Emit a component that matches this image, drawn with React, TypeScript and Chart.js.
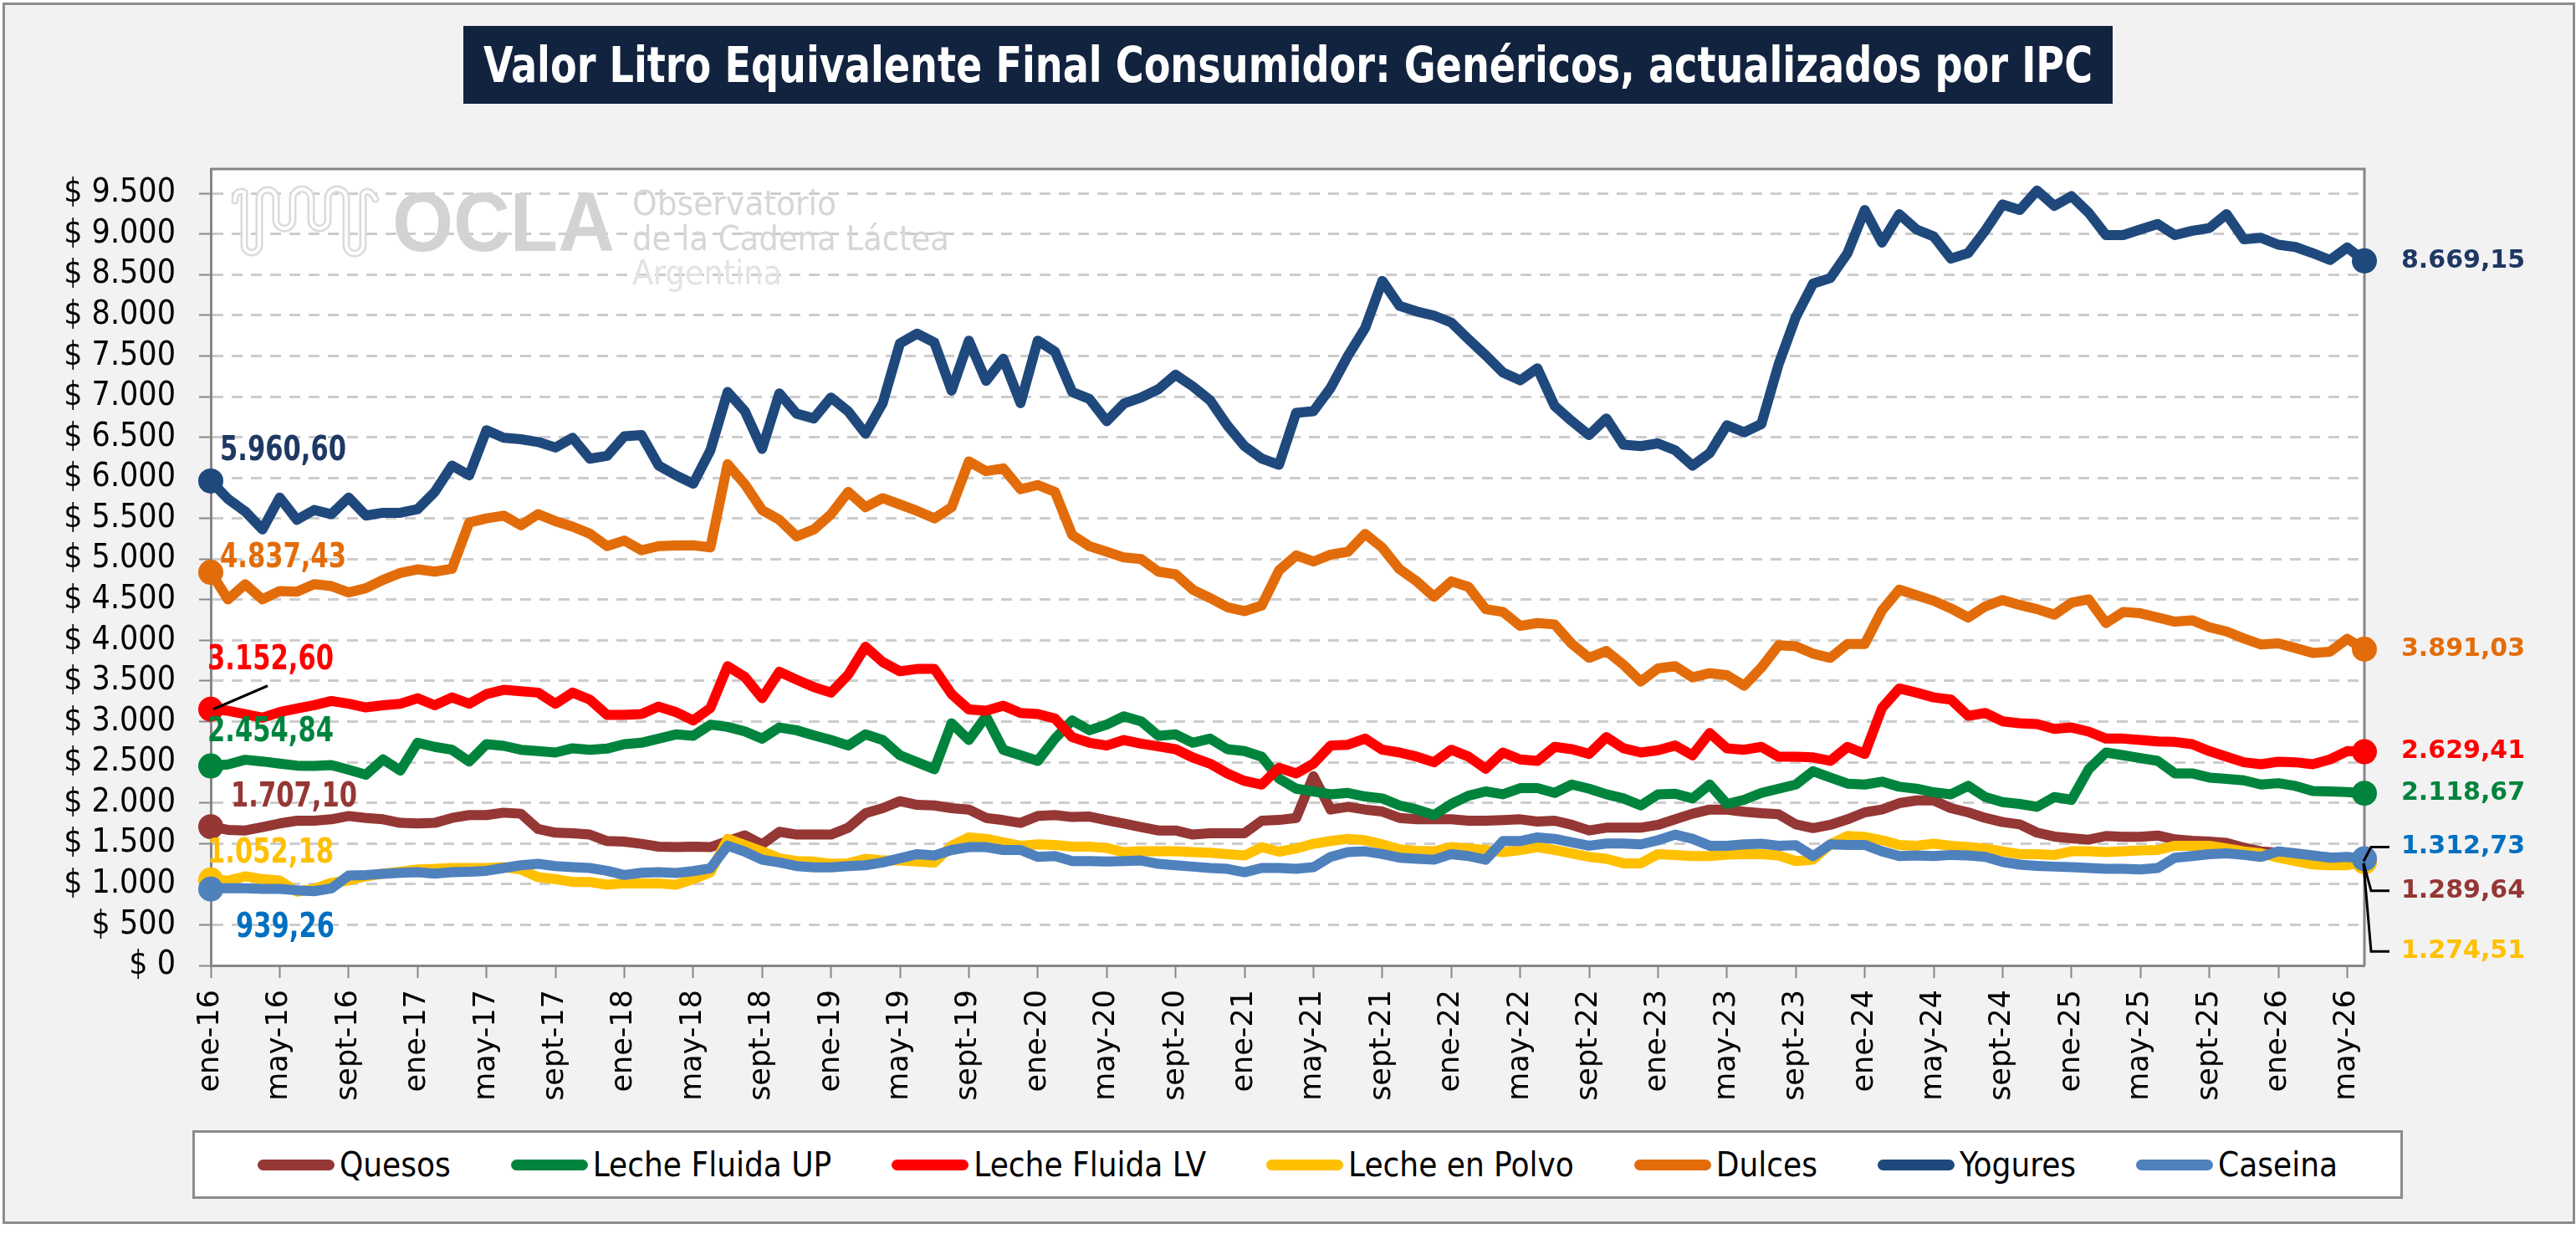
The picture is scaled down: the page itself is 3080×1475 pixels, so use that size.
import React, { useEffect, useRef } from 'react';
import { Chart, registerables } from 'chart.js';

Chart.register(...registerables);

// ---- categories: ene-16 .. jun-26 ----
const MONTHS = ['ene', 'feb', 'mar', 'abr', 'may', 'jun', 'jul', 'ago', 'sept', 'oct', 'nov', 'dic'];
const YEARS = ['16', '17', '18', '19', '20', '21', '22', '23', '24', '25', '26'];
const LABELS: string[] = [];
YEARS.forEach((y) => MONTHS.forEach((m) => LABELS.push(`${m}-${y}`)));
LABELS.splice(126); // data ends in jun-26

// ---- y axis ticks ----
const Y_MAX = 9800;
const Y_TICKS = [0, 500, 1000, 1500, 2000, 2500, 3000, 3500, 4000, 4500, 5000, 5500, 6000, 6500, 7000, 7500, 8000, 8500, 9000, 9500];

// ---- series values ($ por litro equivalente) ----
const QUESOS = [
  1707.10, 1668, 1661, 1702, 1747, 1781, 1781, 1798, 1839, 1815, 1798, 1754,
  1747, 1754, 1815, 1850, 1850, 1880, 1867, 1678, 1634, 1627, 1610, 1531,
  1524, 1497, 1462, 1456, 1462, 1456, 1530, 1600, 1490, 1644, 1610, 1610,
  1610, 1695, 1873, 1935, 2021, 1976, 1969, 1935, 1918, 1815, 1788, 1754,
  1839, 1850, 1826, 1832, 1788, 1747, 1702, 1661, 1661, 1610, 1627, 1627,
  1627, 1781, 1790, 1815, 2329, 1918, 1952, 1918, 1894, 1815, 1798, 1798,
  1798, 1781, 1781, 1788, 1798, 1771, 1781, 1730, 1661, 1695, 1695, 1695,
  1730, 1798, 1867, 1918, 1918, 1891, 1873, 1860, 1736, 1690, 1730, 1798,
  1884, 1918, 1997, 2031, 2031, 1935, 1884, 1815, 1764, 1736, 1634, 1586,
  1565, 1548, 1593, 1582, 1582, 1599, 1551, 1534, 1524, 1507, 1449, 1404,
  1387, 1370, 1346, 1329, 1319, 1289.64,
];
const LECHE_UP = [
  2454.84, 2473, 2531, 2510, 2483, 2459, 2456, 2466, 2408, 2346, 2535, 2398,
  2740, 2689, 2654, 2510, 2723, 2702, 2654, 2637, 2620, 2672, 2654, 2668,
  2723, 2740, 2791, 2843, 2826, 2963, 2935, 2880, 2791, 2928, 2894, 2832,
  2774, 2706, 2843, 2774, 2586, 2500, 2415, 2980, 2774, 3065, 2654, 2586,
  2517, 2791, 3014, 2894, 2963, 3065, 3004, 2826, 2843, 2740, 2791, 2661,
  2637, 2569, 2300, 2175, 2141, 2106, 2123, 2079, 2055, 1969, 1918, 1850,
  1987, 2089, 2141, 2106, 2182, 2182, 2123, 2226, 2175, 2106, 2055, 1969,
  2106, 2113, 2055, 2226, 1987, 2038, 2123, 2175, 2226, 2390, 2312, 2237,
  2226, 2261, 2199, 2175, 2130, 2106, 2209, 2072, 2010, 1987, 1952, 2072,
  2038, 2415, 2620, 2586, 2552, 2517, 2363, 2363, 2312, 2295, 2278, 2226,
  2243, 2209, 2147, 2141, 2134, 2118.67,
];
const LECHE_LV = [
  3152.60, 3134, 3093, 3048, 3117, 3161, 3202, 3254, 3220, 3175, 3202, 3220,
  3288, 3202, 3298, 3220, 3339, 3391, 3374, 3357, 3220, 3357, 3271, 3083,
  3083, 3093, 3185, 3117, 3014, 3168, 3682, 3550, 3288, 3613, 3517, 3425,
  3357, 3579, 3921, 3733, 3620, 3648, 3648, 3339, 3151, 3134, 3196, 3106,
  3093, 3038, 2809, 2740, 2706, 2774, 2730, 2696, 2661, 2558, 2483, 2363,
  2271, 2226, 2432, 2363, 2483, 2706, 2716, 2791, 2654, 2620, 2569, 2500,
  2654, 2569, 2421, 2620, 2535, 2517, 2689, 2661, 2603, 2809, 2672, 2620,
  2648, 2706, 2586, 2860, 2672, 2654, 2689, 2569, 2569, 2560, 2517, 2689,
  2603, 3168, 3408, 3357, 3298, 3271, 3072, 3106, 3004, 2980, 2969, 2911,
  2928, 2877, 2791, 2791, 2774, 2757, 2750, 2723, 2637, 2569, 2500, 2476,
  2507, 2500, 2476, 2535, 2637, 2629.41,
];
const LECHE_POLVO = [
  1052.18, 1045, 1096, 1062, 1045, 908, 942, 1017, 1045, 1096, 1130, 1154,
  1182, 1188, 1199, 1199, 1199, 1209, 1182, 1086, 1062, 1028, 1028, 993,
  1010, 1010, 1010, 993, 1062, 1147, 1558, 1480, 1404, 1319, 1284, 1278,
  1250, 1257, 1312, 1291, 1291, 1278, 1267, 1473, 1576, 1558, 1514, 1473,
  1490, 1483, 1462, 1462, 1445, 1394, 1404, 1404, 1404, 1394, 1387, 1370,
  1353, 1456, 1400, 1439, 1497, 1531, 1558, 1541, 1490, 1428, 1411, 1404,
  1456, 1439, 1421, 1394, 1421, 1456, 1421, 1377, 1336, 1312, 1257, 1257,
  1370, 1360, 1346, 1346, 1363, 1370, 1370, 1353, 1284, 1301, 1490, 1593,
  1582, 1541, 1483, 1473, 1497, 1473, 1456, 1439, 1404, 1370, 1370, 1360,
  1404, 1404, 1394, 1404, 1415, 1421, 1473, 1473, 1473, 1439, 1404, 1380,
  1326, 1284, 1243, 1233, 1233, 1274.51,
];
const DULCES = [
  4837.43, 4504, 4692, 4504, 4607, 4600, 4692, 4668, 4590, 4641, 4744, 4829,
  4874, 4846, 4881, 5450, 5501, 5535, 5416, 5553, 5467, 5399, 5313, 5160,
  5228, 5108, 5160, 5167, 5170, 5143, 6168, 5920, 5603, 5484, 5279, 5364,
  5552, 5826, 5638, 5750, 5672, 5593, 5501, 5638, 6202, 6082, 6116, 5860,
  5911, 5826, 5296, 5159, 5091, 5020, 5000, 4846, 4812, 4624, 4521, 4408,
  4360, 4429, 4860, 5045, 4970, 5055, 5090, 5310, 5140, 4875, 4726, 4538,
  4726, 4658, 4384, 4350, 4178, 4213, 4196, 3956, 3785, 3870, 3699, 3494,
  3654, 3682, 3545, 3596, 3572, 3442, 3665, 3939, 3928, 3836, 3785, 3956,
  3956, 4367, 4624, 4555, 4487, 4394, 4281, 4418, 4497, 4435, 4384, 4316,
  4463, 4504, 4213, 4350, 4333, 4281, 4230, 4247, 4161, 4110, 4024, 3949,
  3963, 3905, 3846, 3860, 4018, 3891.03,
];
const YOGURES = [
  5960.60, 5740, 5587, 5365, 5757, 5484, 5604, 5553, 5757, 5536, 5570, 5570,
  5614, 5826, 6151, 6031, 6585, 6492, 6475, 6441, 6373, 6492, 6236, 6270,
  6510, 6527, 6151, 6031, 5928, 6339, 7056, 6820, 6356, 7039, 6790, 6731,
  6988, 6817, 6543, 6919, 7654, 7774, 7665, 7073, 7688, 7193, 7466, 6919,
  7688, 7552, 7056, 6971, 6697, 6913, 6988, 7090, 7268, 7125, 6954, 6646,
  6390, 6236, 6160, 6800, 6820, 7107, 7500, 7842, 8423, 8116, 8047, 7996,
  7911, 7705, 7507, 7295, 7200, 7347, 6885, 6697, 6526, 6731, 6407, 6390,
  6424, 6338, 6150, 6304, 6646, 6560, 6663, 7398, 7979, 8389, 8458, 8765,
  9295, 8895, 9244, 9056, 8970, 8697, 8765, 9045, 9363, 9295, 9534, 9346,
  9466, 9261, 8987, 8987, 9056, 9124, 8987, 9039, 9073, 9244, 8936, 8953,
  8868, 8840, 8765, 8680, 8834, 8669.15,
];
const CASEINA = [
  939.26, 952, 949, 942, 942, 925, 914, 949, 1106, 1113, 1127, 1140,
  1147, 1130, 1147, 1154, 1164, 1199, 1233, 1250, 1223, 1209, 1199, 1164,
  1113, 1140, 1147, 1137, 1161, 1195, 1473, 1400, 1301, 1267, 1223, 1206,
  1206, 1223, 1233, 1267, 1319, 1370, 1353, 1421, 1456, 1456, 1421, 1421,
  1336, 1346, 1284, 1284, 1278, 1284, 1291, 1250, 1233, 1216, 1199, 1188,
  1147, 1199, 1200, 1188, 1209, 1336, 1394, 1404, 1370, 1326, 1312, 1301,
  1370, 1346, 1301, 1531, 1531, 1576, 1558, 1514, 1473, 1500, 1500, 1490,
  1541, 1610, 1558, 1473, 1473, 1490, 1497, 1473, 1480, 1345, 1490, 1483,
  1483, 1404, 1346, 1353, 1346, 1360, 1353, 1336, 1274, 1240, 1226, 1216,
  1209, 1199, 1188, 1188, 1182, 1199, 1326, 1346, 1370, 1380, 1360, 1336,
  1404, 1380, 1353, 1326, 1336, 1312.73,
];

const NARROW = "'DejaVu Sans Condensed', 'Liberation Sans Narrow', sans-serif";
const WIDE = "'DejaVu Sans', Verdana, sans-serif";

// styles per series (label offsets are relative to the first / last point)
const SERIES = [
  { label: 'Quesos', data: QUESOS, color: '#953735', text: '#953735', start: [24, -35], end: 36, leader: true },
  { label: 'Leche Fluida UP', data: LECHE_UP, color: '#00843D', text: '#00843D', start: [-4, -40], end: 0, leader: false },
  { label: 'Leche Fluida LV', data: LECHE_LV, color: '#FF0000', text: '#FF0000', start: [-4, -58], end: 0, leader: false },
  { label: 'Leche en Polvo', data: LECHE_POLVO, color: '#FFC000', text: '#FFC000', start: [-4, -31], end: 107, leader: true },
  { label: 'Dulces', data: DULCES, color: '#E36C0A', text: '#E36C0A', start: [11, -16], end: 0, leader: false },
  { label: 'Yogures', data: YOGURES, color: '#1F497D', text: '#1F3864', start: [11, -35], end: 0, leader: false },
  { label: 'Caseina', data: CASEINA, color: '#4F81BD', text: '#0070C0', start: [30, 47], end: -14, leader: true },
];

const fmtThousands = (s: string) => s.replace(/\B(?=(\d{3})+(?!\d))/g, '.');
const fmtDec = (v: number) => {
  const [a, b] = v.toFixed(2).split('.');
  return fmtThousands(a) + ',' + b;
};

const plotFrame = {
  id: 'plotFrame',
  beforeDraw(chart: any) {
    const { ctx, chartArea: a } = chart;
    ctx.save();
    ctx.fillStyle = '#FFFFFF';
    ctx.fillRect(a.left, a.top, a.right - a.left, a.bottom - a.top);
    ctx.restore();
  },
  beforeDatasetsDraw(chart: any) {
    const { ctx, chartArea: a } = chart;
    ctx.save();
    ctx.strokeStyle = '#868686';
    ctx.lineWidth = 3;
    ctx.beginPath();
    ctx.moveTo(a.left, a.top);
    ctx.lineTo(a.right, a.top);
    ctx.lineTo(a.right, a.bottom);
    ctx.stroke();
    ctx.restore();
  },
};

const endLabels = {
  id: 'endLabels',
  afterDatasetsDraw(chart: any) {
    const ctx = chart.ctx;
    chart.data.datasets.forEach((ds: any, di: number) => {
      const s = SERIES[di];
      const pts = chart.getDatasetMeta(di).data;
      const p0 = pts[0];
      const p1 = pts[pts.length - 1];
      ctx.save();
      ctx.textBaseline = 'middle';
      ctx.textAlign = 'left';
      ctx.fillStyle = s.text;
      // first value: condensed bold, squeezed a little
      ctx.save();
      ctx.translate(p0.x + s.start[0], p0.y + s.start[1]);
      ctx.scale(0.85, 1);
      ctx.font = `bold 40px ${NARROW}`;
      ctx.fillText(fmtDec(ds.data[0]), 0, 0);
      ctx.restore();
      // last value
      ctx.font = `bold 30px ${WIDE}`;
      ctx.fillText(fmtDec(ds.data[ds.data.length - 1]), p1.x + 44, p1.y + s.end);
      ctx.strokeStyle = '#000';
      ctx.lineWidth = 3;
      if (s.leader) {
        ctx.beginPath();
        ctx.moveTo(p1.x - 1, p1.y + 3);
        ctx.lineTo(p1.x + 8, p1.y + s.end);
        ctx.lineTo(p1.x + 30, p1.y + s.end);
        ctx.stroke();
      }
      if (di === 2) {
        // leader for the first Leche Fluida LV label
        ctx.beginPath();
        ctx.moveTo(p0.x + 3, p0.y);
        ctx.lineTo(p0.x + 68, p0.y - 28);
        ctx.stroke();
      }
      ctx.restore();
    });
  },
};

const LOGO_PATH =
  'M 281 240 Q 281 226 292 230 L 292 293 A 9 9 0 0 0 310 293 L 310 237 A 10 10 0 0 1 330 237 L 330 263 A 10 10 0 0 0 350 263 L 350 237 A 11 11 0 0 1 372 237 L 372 263 A 10 10 0 0 0 392 263 L 392 237 A 11 11 0 0 1 414 237 L 414 293 A 10 10 0 0 0 434 293 L 434 232 Q 441 224 449 238';

const Watermark: React.FC = () => (
  <svg width={3080} height={1475} style={{ position: 'absolute', left: 0, top: 0, pointerEvents: 'none' }}>
    <path d={LOGO_PATH} fill="none" stroke="#DADADA" strokeWidth={9} strokeLinecap="round" strokeLinejoin="round" />
    <path d={LOGO_PATH} fill="none" stroke="#FFFFFF" strokeWidth={4} strokeLinecap="round" strokeLinejoin="round" />
    <text x={469} y={300} fontFamily="'Liberation Sans', sans-serif" fontWeight="bold" fontSize={100} fill="#D3D3D3" textLength={266} lengthAdjust="spacingAndGlyphs">OCLA</text>
    <text x={756} y={257} fontFamily={NARROW} fontSize={40} fill="#D6D6D6" textLength={244} lengthAdjust="spacingAndGlyphs">Observatorio</text>
    <text x={756} y={299} fontFamily={NARROW} fontSize={40} fill="#D6D6D6" textLength={379} lengthAdjust="spacingAndGlyphs">de la Cadena Láctea</text>
    <text x={756} y={340} fontFamily={NARROW} fontSize={40} fill="#E3E3E3" textLength={179} lengthAdjust="spacingAndGlyphs">Argentina</text>
  </svg>
);

const Legend: React.FC = () => (
  <div
    style={{
      position: 'absolute', left: 230, top: 1351, width: 2643, height: 82, boxSizing: 'border-box',
      border: '3px solid #8C8C8C', background: '#FFFFFF', display: 'flex', alignItems: 'center',
      justifyContent: 'center', gap: 72,
    }}
  >
    {SERIES.map((s) => (
      <div key={s.label} style={{ display: 'flex', alignItems: 'center' }}>
        <span style={{ display: 'inline-block', width: 92, height: 13, borderRadius: 7, background: s.color }} />
        <span style={{ marginLeft: 6, fontFamily: NARROW, fontSize: 40, color: '#000', whiteSpace: 'nowrap' }}>{s.label}</span>
      </div>
    ))}
  </div>
);

const App: React.FC = () => {
  const canvasRef = useRef<HTMLCanvasElement>(null);
  const chartRef = useRef<Chart | null>(null);

  useEffect(() => {
    if (!canvasRef.current) return;
    if (chartRef.current) chartRef.current.destroy();
    const last = LABELS.length - 1;

    chartRef.current = new Chart(canvasRef.current, {
      type: 'line',
      data: {
        labels: LABELS,
        datasets: SERIES.map((s, i) => ({
          label: s.label,
          data: s.data,
          borderColor: s.color,
          backgroundColor: s.color,
          borderWidth: 12,
          borderJoinStyle: 'round',
          borderCapStyle: 'round',
          tension: 0,
          pointRadius: (c: any) => (c.dataIndex === 0 || c.dataIndex === last ? 15 : 0),
          pointBackgroundColor: s.color,
          pointBorderWidth: 0,
          clip: false,
          order: SERIES.length - i, // later series drawn on top
        })) as any,
      },
      options: {
        responsive: false,
        animation: false,
        layout: { padding: { top: 202, right: 253, bottom: 124, left: 8 } },
        plugins: {
          legend: { display: false },
          tooltip: { enabled: false },
        },
        scales: {
          x: {
            ticks: {
              autoSkip: false,
              minRotation: 90,
              maxRotation: 90,
              padding: 14,
              color: '#000',
              font: { family: WIDE, size: 35 },
              callback: (_v: any, i: number) => (i % 4 === 0 ? LABELS[i] : null),
            },
            grid: { drawOnChartArea: false, drawTicks: true, tickLength: 15, tickColor: '#868686', tickWidth: 2 },
            border: { color: '#868686', width: 3 },
            afterFit: (scale: any) => { scale.height = 197; },
          },
          y: {
            type: 'linear',
            min: 0,
            max: Y_MAX,
            afterBuildTicks: (scale: any) => {
              scale.ticks = Y_TICKS.map((v) => ({ value: v }));
            },
            ticks: {
              autoSkip: false,
              padding: 28,
              color: '#000',
              font: { family: NARROW, size: 39 },
              callback: (v: any) => '$ ' + fmtThousands(String(v)),
            },
            grid: { color: '#CCCCCC', lineWidth: 3, tickColor: '#868686', tickWidth: 2, tickLength: 14 },
            border: { color: '#868686', width: 3, dash: [13, 10] },
            afterFit: (scale: any) => { scale.width = 244; },
          },
        },
      } as any,
      plugins: [plotFrame, endLabels],
    });

    return () => {
      if (chartRef.current) chartRef.current.destroy();
      chartRef.current = null;
    };
  }, []);

  return (
    <div style={{ position: 'fixed', left: 0, top: 0, width: 3080, height: 1475, background: '#FFFFFF', overflow: 'hidden' }}>
      <div
        style={{
          position: 'absolute', left: 3, top: 3, width: 3076, height: 1460, boxSizing: 'border-box',
          border: '3px solid #8C8C8C', background: '#F2F2F2',
        }}
      />
      <canvas ref={canvasRef} width={3080} height={1475} style={{ position: 'absolute', left: 0, top: 0 }} />
      <Watermark />
      <div
        style={{
          position: 'absolute', left: 554, top: 31, width: 1972, height: 93, background: '#12233F',
          display: 'flex', alignItems: 'center', justifyContent: 'center', overflow: 'visible',
        }}
      >
        <span
          style={{
            color: '#FFFFFF', fontFamily: NARROW, fontWeight: 'bold', fontSize: 58, whiteSpace: 'nowrap',
            transform: 'scaleX(0.885)', flexShrink: 0,
          }}
        >
          Valor Litro Equivalente Final Consumidor: Genéricos, actualizados por IPC
        </span>
      </div>
      <Legend />
    </div>
  );
};

export default App;
